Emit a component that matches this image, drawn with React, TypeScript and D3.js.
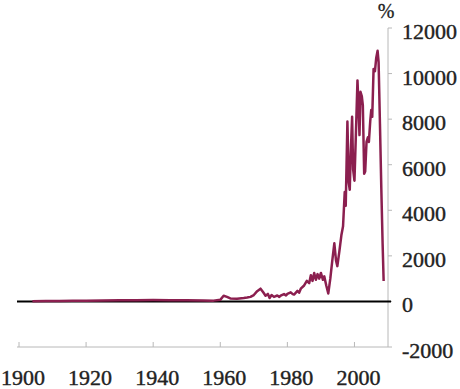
import React, { useRef, useEffect } from "react";
import * as d3 from "d3";

const years: number[] = [
  1904, 1908, 1912, 1916, 1920, 1925, 1930, 1935, 1940, 1945, 1950, 1955,
  1958, 1960, 1961, 1962, 1963, 1965, 1967, 1968, 1969, 1970, 1971, 1972,
  1972.8, 1973.5, 1974.2, 1974.7, 1975.3, 1976, 1977, 1977.6, 1978, 1979,
  1979.6, 1980, 1981, 1981.6, 1982, 1983, 1983.5, 1984, 1985, 1985.8, 1986.5,
  1987, 1987.5, 1988, 1988.5, 1989, 1989.5, 1990, 1990.6, 1991, 1991.6,
  1992.2, 1992.8, 1993.4, 1994, 1994.5, 1994.9, 1995.5, 1996.1, 1996.6,
  1997.1, 1997.4, 1997.9, 1998.3, 1998.6, 1998.9, 1999.3, 1999.6, 2000.0,
  2000.4, 2000.9, 2001.2, 2001.5, 2001.8, 2002.2, 2002.5, 2002.9, 2003.2,
  2003.6, 2004.0, 2004.3, 2004.7, 2005.0, 2005.3, 2005.7, 2006.1, 2006.5,
  2006.9, 2007.2, 2007.6, 2008.0, 2008.4, 2008.7,
];

const values: number[] = [
  5, 15, 20, 25, 35, 40, 50, 55, 60, 55, 50, 45, 35, 70, 250, 200, 130, 120,
  150, 170, 200, 280, 450, 560, 400, 250, 330, 150, 280, 200, 260, 200, 250,
  320, 260, 330, 400, 320, 300, 460, 380, 560, 700, 900, 800, 1150, 900, 1250,
  950, 1200, 1000, 1250, 950, 1100, 700, 350, 1000, 1800, 2550, 1800, 1550,
  2200, 2900, 3300, 4800, 4200, 7900, 5200, 4900, 6500, 8100, 5800, 5300,
  7200, 9700, 8600, 7300, 9200, 9000, 8600, 5600, 5700, 7000, 7200, 7000,
  7900, 8400, 8100, 10200, 10100, 10700, 11000, 10500, 7800, 5000, 2500, 900,
];

const xTicks: number[] = [1900, 1920, 1940, 1960, 1980, 2000];
const yTicks: number[] = [-2000, 0, 2000, 4000, 6000, 8000, 10000, 12000];
const unitLabel = "%";

const FONT = '"Liberation Serif", "Times New Roman", Times, serif';

const App: React.FC = () => {
  const svgRef = useRef<SVGSVGElement>(null);

  useEffect(() => {
    if (!svgRef.current) return;
    const width = 460;
    const height = 389;

    const svg = d3.select(svgRef.current).attr("width", width).attr("height", height);
    svg.selectAll("*").remove();

    const x = d3.scaleLinear().domain([1900, 2010]).range([19, 388]);
    const y = d3.scaleLinear().domain([-2000, 12000]).range([347, 28]);

    // bottom axis
    const xAxis = svg.append("g").attr("transform", `translate(0,${y(-2000)})`);
    xAxis
      .append("line")
      .attr("x1", 17)
      .attr("x2", x(2010))
      .attr("stroke", "#b8b8b8");
    xAxis
      .selectAll("line.tick")
      .data(xTicks)
      .enter()
      .append("line")
      .attr("class", "tick")
      .attr("x1", (d) => x(d))
      .attr("x2", (d) => x(d))
      .attr("y1", 0)
      .attr("y2", -5)
      .attr("stroke", "#b8b8b8");
    xAxis
      .selectAll("text")
      .data(xTicks)
      .enter()
      .append("text")
      .attr("x", (d) => x(d) + 4)
      .attr("y", 38)
      .attr("text-anchor", "middle")
      .style("font-family", FONT)
      .style("font-size", "22px")
      .attr("fill", "#222")
      .attr("stroke", "#222")
      .attr("stroke-width", 0.4)
      .text((d) => d);

    // right axis
    const yAxis = svg.append("g").attr("transform", `translate(${x(2010)},0)`);
    yAxis
      .append("line")
      .attr("y1", y(12000))
      .attr("y2", y(-2000))
      .attr("stroke", "#b8b8b8");
    yAxis
      .selectAll("line.tick")
      .data(yTicks)
      .enter()
      .append("line")
      .attr("class", "tick")
      .attr("x1", 0)
      .attr("x2", 4)
      .attr("y1", (d) => y(d))
      .attr("y2", (d) => y(d))
      .attr("stroke", "#b8b8b8");
    yAxis
      .selectAll("text")
      .data(yTicks)
      .enter()
      .append("text")
      .attr("x", 14)
      .attr("y", (d) => y(d) + 11)
      .style("font-family", FONT)
      .style("font-size", "22px")
      .attr("fill", "#222")
      .attr("stroke", "#222")
      .attr("stroke-width", 0.4)
      .text((d) => d);
    yAxis
      .append("text")
      .attr("x", -2)
      .attr("y", 18)
      .attr("text-anchor", "middle")
      .style("font-family", FONT)
      .style("font-size", "20px")
      .attr("fill", "#222")
      .attr("stroke", "#222")
      .attr("stroke-width", 0.3)
      .text(unitLabel);

    // zero line
    svg
      .append("line")
      .attr("x1", 17)
      .attr("x2", x(2010) + 3)
      .attr("y1", y(0))
      .attr("y2", y(0))
      .attr("stroke", "#000")
      .attr("stroke-width", 2);

    // series
    const line = d3
      .line<number>()
      .x((_, i) => x(years[i]))
      .y((d) => y(d));
    svg
      .append("path")
      .datum(values)
      .attr("d", line)
      .attr("fill", "none")
      .attr("stroke", "#8b1f4f")
      .attr("stroke-width", 2.5)
      .attr("stroke-linejoin", "round");
  }, []);

  return (
    <svg ref={svgRef} style={{ position: "absolute", left: 0, top: 0 }}></svg>
  );
};

export default App;
